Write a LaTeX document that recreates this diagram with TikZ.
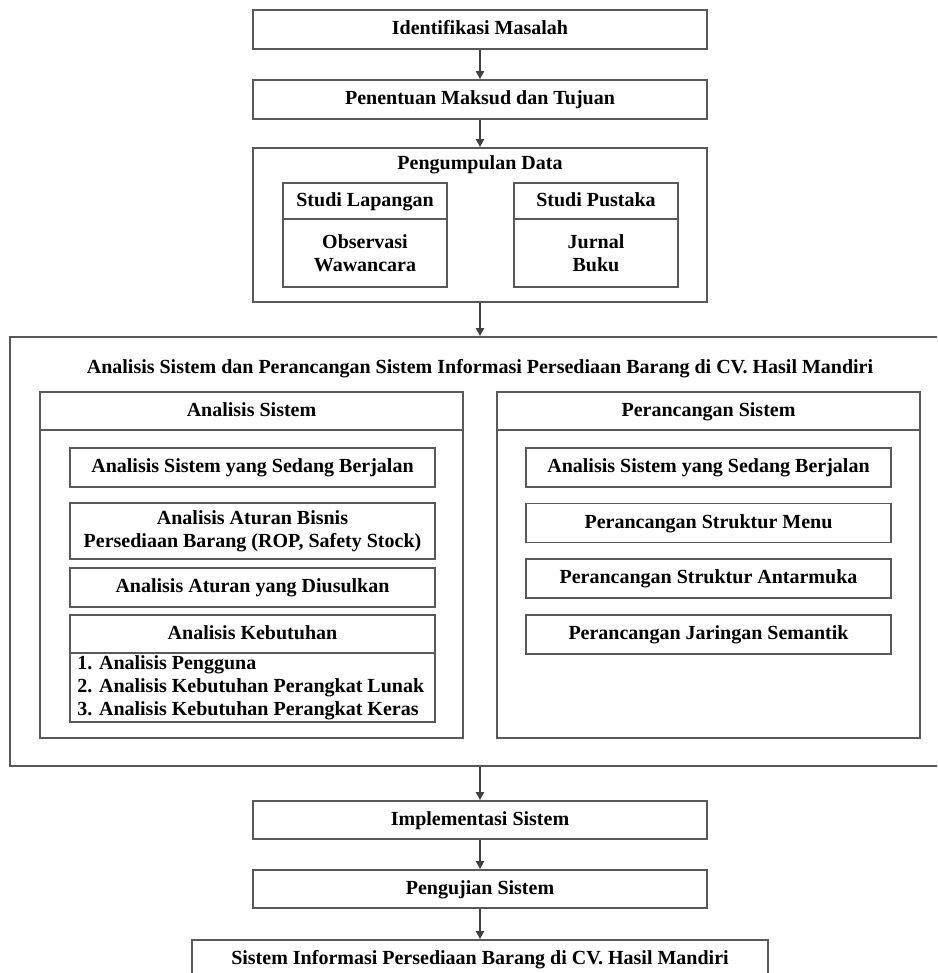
\documentclass[tikz,border=0pt]{standalone}
\usepackage{fontspec}
\setmainfont{Liberation Serif}
\usetikzlibrary{arrows.meta}

\begin{document}
\begin{tikzpicture}[x=0.5pt, y=-0.5pt,
        box/.style={draw=black!65, line width=0.9pt, rectangle, inner sep=0pt, align=center, font=\fontsize{10}{11.3}\selectfont\bfseries},
        one/.style={text height=7pt, text depth=2pt},
        lbl/.style={inner sep=0pt, font=\fontsize{10}{11.5}\selectfont\bfseries},
        arr/.style={draw=black!75, line width=0.9pt, -{Triangle[length=4pt,width=4pt]}}]
        \useasboundingbox (0,0) rectangle (937,973);
        \clip (0,0) rectangle (937,973);

        % Top steps
        \node[box, one, minimum width=227pt, minimum height=19.5pt] (masalah) at (480, 29.5) {Identifikasi Masalah};
        \node[box, one, minimum width=227pt, minimum height=19.5pt] (tujuan) at (480, 99.5) {Penentuan Maksud dan Tujuan};

        % Pengumpulan data
        \node[box, minimum width=227pt, minimum height=77pt] (kumpul) at (480, 225) {};
        \node[lbl, one] (kumpulT) at (480, 165) {Pengumpulan Data};
        \node[box, one, minimum width=82pt, minimum height=18pt] (lapHead) at (365, 201) {Studi Lapangan};
        \node[box, minimum width=82pt, minimum height=34pt] (lapBody) at (365, 253) {Observasi\\Wawancara};
        \node[box, one, minimum width=82pt, minimum height=18pt] (pusHead) at (596, 201) {Studi Pustaka};
        \node[box, minimum width=82pt, minimum height=34pt] (pusBody) at (596, 253) {Jurnal\\Buku};

        % Analisis dan perancangan
        \node[box, minimum width=470pt, minimum height=214.5pt] (utama) at (480, 551.5) {};
        \node[lbl, one] (utamaT) at (480, 368) {Analisis Sistem dan Perancangan Sistem Informasi Persediaan Barang di CV. Hasil Mandiri};

        % Analisis sistem
        \node[box, one, minimum width=211.5pt, minimum height=19pt] (anaHead) at (251.5, 411) {Analisis Sistem};
        \node[box, minimum width=211.5pt, minimum height=154pt] (anaBody) at (251.5, 584) {};
        \node[box, one, minimum width=182.5pt, minimum height=19.5pt] (ana1) at (252.5, 467.5) {Analisis Sistem yang Sedang Berjalan};
        \node[box, minimum width=182.5pt, minimum height=28pt] (ana2) at (252.5, 531) {Analisis Aturan Bisnis\\Persediaan Barang (ROP, Safety Stock)};
        \node[box, one, minimum width=182.5pt, minimum height=19.5pt] (ana3) at (252.5, 587.5) {Analisis Aturan yang Diusulkan};
        \node[box, one, minimum width=182.5pt, minimum height=19pt] (butHead) at (252.5, 634) {Analisis Kebutuhan};
        \node[box, minimum width=182.5pt, minimum height=34.5pt] (butBody) at (252.5, 687.5) {};
        \node[lbl, align=left, anchor=west] (butList) at (77, 688) {1. Analisis Pengguna\\2. Analisis Kebutuhan Perangkat Lunak\\3. Analisis Kebutuhan Perangkat Keras};

        % Perancangan sistem
        \node[box, one, minimum width=211.5pt, minimum height=19pt] (perHead) at (708.5, 411) {Perancangan Sistem};
        \node[box, minimum width=211.5pt, minimum height=154pt] (perBody) at (708.5, 584) {};
        \node[box, one, minimum width=182.5pt, minimum height=19.5pt] (per1) at (708.5, 467.5) {Analisis Sistem yang Sedang Berjalan};
        \node[box, one, minimum width=182.5pt, minimum height=19.5pt] (per2) at (708.5, 523) {Perancangan Struktur Menu};
        \node[box, one, minimum width=182.5pt, minimum height=19.5pt] (per3) at (708.5, 578.5) {Perancangan Struktur Antarmuka};
        \node[box, one, minimum width=182.5pt, minimum height=19.5pt] (per4) at (708.5, 634.5) {Perancangan Jaringan Semantik};

        % Bottom steps
        \node[box, one, minimum width=227pt, minimum height=19pt] (implementasi) at (480, 820) {Implementasi Sistem};
        \node[box, one, minimum width=227pt, minimum height=19pt] (pengujian) at (480, 889) {Pengujian Sistem};
        \node[box, one, minimum width=288pt, minimum height=19pt] (hasil) at (480, 959) {Sistem Informasi Persediaan Barang di CV. Hasil Mandiri};

        % Connections
        \draw[arr] (masalah) -- (tujuan);
        \draw[arr] (tujuan) -- (kumpul);
        \draw[arr] (kumpul) -- (utama);
        \draw[arr] (utama) -- (implementasi);
        \draw[arr] (implementasi) -- (pengujian);
        \draw[arr] (pengujian) -- (hasil);
    \end{tikzpicture}
\end{document}
